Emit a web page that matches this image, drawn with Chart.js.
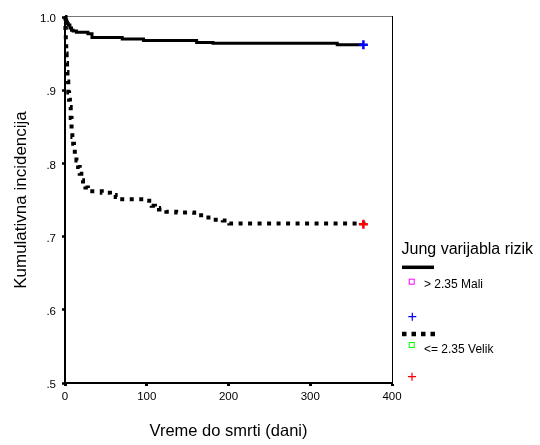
<!DOCTYPE html>
<html>
<head>
<meta charset="utf-8">
<script src="https://cdn.jsdelivr.net/npm/chart.js@4/dist/chart.umd.min.js"></script>
<style>
html,body{margin:0;padding:0;background:#fff;}
#wrap{width:540px;height:445px;}
</style>
</head>
<body>
<div id="wrap"><canvas id="km" width="540" height="445"></canvas></div>
<script>
const FONT = '"Liberation Sans", Arial, sans-serif';

// Kaplan-Meier estimates: day of follow-up and cumulative proportion, per risk group
const maliDays   = [0, 1, 2, 3, 4, 6, 8, 10, 14, 28, 33, 70, 96, 161, 181, 333, 365];
const maliValues = [1.000, 0.996, 0.993, 0.991, 0.989, 0.985, 0.982, 0.981, 0.979, 0.977, 0.972, 0.970, 0.968, 0.965, 0.964, 0.962, 0.962];

const velikDays   = [0, 0.5, 1, 1.5, 2, 2.5, 3, 4, 5, 6, 7, 8, 9, 10, 11, 12, 14, 16, 18, 20, 22, 25, 28, 45, 55, 62, 70, 100, 103, 106, 110, 115, 124, 136, 158, 171, 180, 193, 201, 365];
const velikValues = [1.000, 0.985, 0.965, 0.950, 0.937, 0.925, 0.912, 0.897, 0.887, 0.877, 0.862, 0.846, 0.836, 0.827, 0.820, 0.813, 0.804, 0.795, 0.786, 0.777, 0.772, 0.767, 0.762, 0.760, 0.757, 0.754, 0.751, 0.749, 0.746, 0.742, 0.739, 0.737, 0.734, 0.733, 0.729, 0.726, 0.723, 0.722, 0.718, 0.717];

// censored cases at the end of follow-up
const censorDays = [365];
const maliCensored = [0.962];
const velikCensored = [0.717];

// axis ticks
const yTickValues = [0.5, 0.6, 0.7, 0.8, 0.9, 1.0];
const yTickLabels = ['.5', '.6', '.7', '.8', '.9', '1.0'];
const xTickValues = [0, 100, 200, 300, 400];
const xTickLabels = ['0', '100', '200', '300', '400'];

// texts
const xTitle = 'Vreme do smrti (dani)';
const yTitle = 'Kumulativna incidencija';
const legendTitle = 'Jung varijabla rizik';
const groupNames = ['> 2.35 Mali', '<= 2.35 Velik'];

const toPoints = (xs, ys) => xs.map((x, i) => ({ x: x, y: ys[i] }));

// thin frame on the top and right of the plot area
const framePlugin = {
  id: 'frame',
  beforeDatasetsDraw(chart) {
    const { ctx, chartArea: a } = chart;
    ctx.save();
    ctx.lineWidth = 1;
    ctx.strokeStyle = '#777';
    ctx.beginPath();
    ctx.moveTo(a.left, a.top - 0.5);
    ctx.lineTo(a.right, a.top - 0.5);
    ctx.stroke();
    ctx.strokeStyle = '#000';
    ctx.beginPath();
    ctx.moveTo(a.right + 0.5, a.top - 1);
    ctx.lineTo(a.right + 0.5, a.bottom);
    ctx.stroke();
    ctx.restore();
  }
};

// legend block on the right: line samples, group markers, censor markers
const legendPlugin = {
  id: 'kmLegend',
  afterDraw(chart) {
    const ctx = chart.ctx;
    const x0 = chart.chartArea.right + 10;
    ctx.save();
    ctx.fillStyle = '#000';
    ctx.textAlign = 'left';
    ctx.textBaseline = 'alphabetic';
    ctx.font = '16px ' + FONT;
    ctx.fillText(legendTitle, x0 - 0.5, 253.5);

    const sq = (cx, cy, color) => {
      ctx.strokeStyle = color;
      ctx.lineWidth = 1;
      ctx.strokeRect(cx - 2.5, cy - 2.5, 5, 5);
    };
    const plus = (cx, cy, color) => {
      ctx.strokeStyle = color;
      ctx.lineWidth = 1.2;
      ctx.beginPath();
      ctx.moveTo(cx - 4, cy); ctx.lineTo(cx + 4, cy);
      ctx.moveTo(cx, cy - 4); ctx.lineTo(cx, cy + 4);
      ctx.stroke();
    };

    // solid group
    ctx.strokeStyle = '#000';
    ctx.lineWidth = 3.5;
    ctx.setLineDash([]);
    ctx.beginPath();
    ctx.moveTo(x0, 267.3); ctx.lineTo(x0 + 32, 267.3);
    ctx.stroke();
    sq(x0 + 9.7, 281.7, '#ff00ff');
    ctx.font = '12px ' + FONT;
    ctx.fillText(groupNames[0], x0 + 22, 288);
    plus(x0 + 10.3, 316.7, '#0000ff');

    // dotted group
    ctx.strokeStyle = '#000';
    ctx.lineWidth = 4.5;
    ctx.setLineDash([4.5, 5]);
    ctx.beginPath();
    ctx.moveTo(x0, 334); ctx.lineTo(x0 + 33, 334);
    ctx.stroke();
    ctx.setLineDash([]);
    sq(x0 + 9.7, 345, '#00ff00');
    ctx.fillText(groupNames[1], x0 + 22, 352.5);
    plus(x0 + 10, 376.7, '#ff0000');
    ctx.restore();
  }
};

new Chart(document.getElementById('km'), {
  type: 'line',
  data: {
    datasets: [
      {
        label: groupNames[0],
        data: toPoints(maliDays, maliValues),
        borderColor: '#000',
        borderWidth: 3,
        stepped: 'before',
        pointRadius: 0,
        fill: false,
        clip: false,
        order: 2
      },
      {
        label: groupNames[1],
        data: toPoints(velikDays, velikValues),
        borderColor: '#000',
        borderWidth: 4,
        borderDash: [4, 5.5],
        borderCapStyle: 'butt',
        stepped: 'before',
        pointRadius: 0,
        fill: false,
        clip: false,
        order: 2
      },
      {
        type: 'scatter',
        label: 'censored ' + groupNames[0],
        data: toPoints(censorDays, maliCensored),
        pointStyle: 'cross',
        pointRadius: 4.5,
        pointBorderWidth: 2.5,
        pointBorderColor: '#0000ff',
        showLine: false,
        clip: false,
        order: 1
      },
      {
        type: 'scatter',
        label: 'censored ' + groupNames[1],
        data: toPoints(censorDays, velikCensored),
        pointStyle: 'cross',
        pointRadius: 4.5,
        pointBorderWidth: 2.5,
        pointBorderColor: '#ff0000',
        showLine: false,
        clip: false,
        order: 1
      }
    ]
  },
  options: {
    responsive: false,
    animation: false,
    devicePixelRatio: 1,
    layout: { padding: { top: 17, right: 148, bottom: 0, left: 0 } },
    plugins: {
      legend: { display: false },
      tooltip: { enabled: false }
    },
    scales: {
      x: {
        type: 'linear',
        min: 0,
        max: 400,
        afterFit: s => { s.height = 62; },
        afterBuildTicks: s => { s.ticks = xTickValues.map(v => ({ value: v })); },
        border: { display: true, color: '#000', width: 2 },
        grid: { drawOnChartArea: false, drawTicks: true, tickLength: 3, tickWidth: 3, tickColor: '#000' },
        ticks: {
          color: '#000',
          font: { family: FONT, size: 11.5 },
          padding: 4,
          maxRotation: 0,
          callback: (v, i) => xTickLabels[i]
        },
        title: {
          display: true,
          text: xTitle,
          color: '#000',
          font: { family: FONT, size: 16.5 },
          padding: { top: 0, bottom: 3.4 }
        }
      },
      y: {
        type: 'linear',
        min: 0.5,
        max: 1.0,
        afterFit: s => { s.width = 65; },
        afterBuildTicks: s => { s.ticks = yTickValues.map(v => ({ value: v })); },
        border: { display: true, color: '#000', width: 2 },
        grid: { drawOnChartArea: false, drawTicks: true, tickLength: 3, tickWidth: 2.5, tickColor: '#000' },
        ticks: {
          color: '#000',
          font: { family: FONT, size: 11.5 },
          padding: 6,
          labelOffset: 2,
          callback: (v, i) => yTickLabels[i]
        },
        title: {
          display: true,
          text: yTitle,
          color: '#000',
          font: { family: FONT, size: 17 },
          padding: { top: 10.8, bottom: 0 }
        }
      }
    }
  },
  plugins: [framePlugin, legendPlugin]
});
</script>
</body>
</html>
